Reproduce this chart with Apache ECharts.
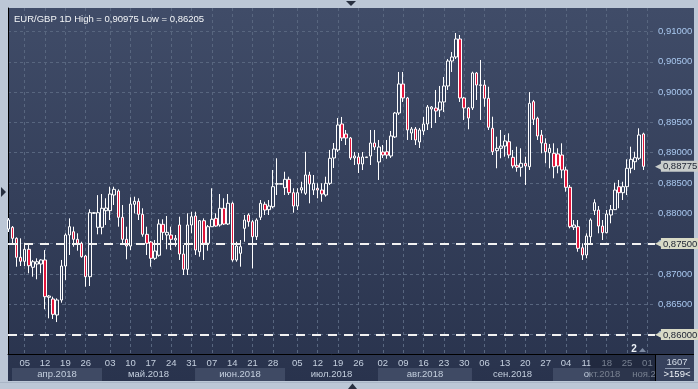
<!DOCTYPE html>
<html><head><meta charset="utf-8">
<script src="https://cdn.jsdelivr.net/npm/echarts@6/dist/echarts.min.js"></script>
<style>html,body{margin:0;padding:0;background:#bcc7d6;}#c{width:698px;height:389px;}</style>
</head><body><div id="c"></div>
<script>
// ---- data (EUR/GBP daily candles, 30 Mar - 31 Oct 2018) ----
const openVals = [0.87741,0.87769,0.87587,0.87274,0.87208,0.87406,0.87109,0.87163,0.87163,0.87230,
0.86614,0.86586,0.86322,0.86569,0.87130,0.87642,0.87696,0.87571,0.87505,0.87295,
0.86954,0.88000,0.87769,0.87769,0.88043,0.88043,0.88302,0.88368,0.87934,0.87571,
0.87460,0.88149,0.88198,0.87983,0.87653,0.87526,0.87257,0.87307,0.87818,0.87642,
0.87642,0.87559,0.87807,0.87328,0.87076,0.87807,0.87955,0.87366,0.87878,0.87505,
0.87779,0.87917,0.87807,0.88083,0.87823,0.88165,0.87230,0.87340,0.87752,0.87972,
0.87861,0.87614,0.87934,0.88149,0.88060,0.88109,0.88480,0.88480,0.88422,0.88561,
0.88340,0.88120,0.88384,0.88330,0.88632,0.88384,0.88413,0.88384,0.88302,0.88495,
0.88913,0.89045,0.89474,0.89309,0.89243,0.88913,0.88929,0.88814,0.88920,0.88946,
0.89160,0.88847,0.89012,0.89016,0.88946,0.89260,0.89655,0.90134,0.89903,0.89325,
0.89391,0.89177,0.89358,0.89474,0.89721,0.89737,0.89705,0.89837,0.90101,0.90513,
0.90579,0.90876,0.89903,0.89738,0.89738,0.90315,0.90110,0.90117,0.89898,0.89403,
0.89033,0.89073,0.89110,0.89181,0.88924,0.88792,0.88759,0.88825,0.88769,0.89842,
0.89568,0.89292,0.89155,0.89000,0.88990,0.88980,0.88962,0.88715,0.88429,0.87769,
0.87779,0.87432,0.87312,0.87614,0.88043,0.88054,0.87790,0.87680,0.87972,0.88060,
0.88439,0.88340,0.88439,0.88743,0.88851,0.88908,0.89309];
const closeVals = [0.87890,0.87587,0.87274,0.87208,0.87406,0.87135,0.87201,0.87201,0.87230,0.86624,
0.86635,0.86333,0.86569,0.87130,0.87642,0.87779,0.87571,0.87505,0.87284,0.86954,
0.88010,0.88010,0.88010,0.88083,0.88087,0.88318,0.88396,0.87934,0.87571,0.87460,
0.88153,0.88198,0.87983,0.87653,0.87505,0.87257,0.87378,0.87823,0.87686,0.87686,
0.87571,0.87587,0.87328,0.87076,0.87807,0.87944,0.87394,0.87878,0.87505,0.87779,
0.87901,0.87790,0.88083,0.87823,0.88165,0.87230,0.87460,0.87449,0.87889,0.87861,
0.87614,0.87889,0.88165,0.88054,0.88120,0.88439,0.88490,0.88490,0.88561,0.88340,
0.88120,0.88340,0.88422,0.88632,0.88483,0.88495,0.88384,0.88318,0.88495,0.88908,
0.89061,0.89457,0.89243,0.89243,0.88913,0.88946,0.88814,0.88929,0.88930,0.89160,
0.89094,0.89094,0.88962,0.88960,0.89276,0.89655,0.90134,0.89903,0.89375,0.89391,
0.89210,0.89375,0.89474,0.89754,0.89754,0.89688,0.89837,0.90101,0.90513,0.90579,
0.90876,0.89903,0.89738,0.89572,0.90315,0.90117,0.90120,0.89898,0.89419,0.89016,
0.89073,0.89110,0.89193,0.88962,0.88781,0.88759,0.88825,0.88781,0.89815,0.89551,
0.89276,0.89160,0.89016,0.89073,0.88769,0.88781,0.88715,0.88429,0.87779,0.87807,
0.87422,0.87312,0.87625,0.87889,0.88175,0.87790,0.87680,0.87988,0.88060,0.88384,
0.88340,0.88439,0.88743,0.88891,0.88917,0.89292,0.88775];
const lowVals = [0.87691,0.87505,0.87119,0.87130,0.87130,0.87010,0.86954,0.86911,0.87010,0.86416,
0.86267,0.86256,0.86205,0.86525,0.86900,0.87312,0.87449,0.87383,0.87267,0.86789,
0.86800,0.87990,0.87653,0.87653,0.87807,0.87889,0.88137,0.87779,0.87505,0.87241,
0.87394,0.88000,0.87889,0.87614,0.87312,0.87119,0.87230,0.87284,0.87559,0.87406,
0.87394,0.87449,0.87230,0.86982,0.86982,0.87670,0.87312,0.87284,0.87230,0.87383,
0.87779,0.87779,0.87779,0.87807,0.87807,0.87201,0.87201,0.87119,0.87531,0.87779,
0.87092,0.87559,0.87889,0.87972,0.87972,0.88083,0.88302,0.88480,0.88302,0.88302,
0.88010,0.88054,0.88330,0.88302,0.88165,0.88302,0.88248,0.88191,0.88274,0.88467,
0.88748,0.89012,0.89193,0.89127,0.88880,0.88797,0.88665,0.88714,0.88920,0.88797,
0.89045,0.88550,0.88913,0.88900,0.88913,0.89243,0.89622,0.89837,0.89210,0.89210,
0.89127,0.89078,0.89292,0.89375,0.89408,0.89490,0.89589,0.89672,0.90035,0.90332,
0.90546,0.89837,0.89540,0.89386,0.89705,0.89870,0.89540,0.89759,0.89375,0.88962,
0.88743,0.88908,0.88934,0.88908,0.88743,0.88686,0.88604,0.88467,0.88715,0.89457,
0.89210,0.88990,0.88825,0.88743,0.88578,0.88660,0.88578,0.88356,0.87752,0.87724,
0.87366,0.87230,0.87257,0.87477,0.87972,0.87670,0.87559,0.87670,0.87835,0.88054,
0.88083,0.88219,0.88302,0.88660,0.88715,0.88880,0.88715];
const highVals = [0.87922,0.87790,0.87604,0.87587,0.87477,0.87505,0.87230,0.87257,0.87241,0.87394,
0.86652,0.86624,0.86597,0.87230,0.87670,0.87917,0.87779,0.87670,0.87531,0.87312,
0.88066,0.88020,0.88300,0.88318,0.88248,0.88439,0.88439,0.88396,0.88137,0.87779,
0.88264,0.88274,0.88248,0.88083,0.87779,0.87543,0.87559,0.87901,0.87901,0.87955,
0.87779,0.87642,0.87944,0.87477,0.88000,0.88026,0.88026,0.87889,0.87917,0.87807,
0.88413,0.88000,0.88318,0.88248,0.88318,0.88191,0.87531,0.87559,0.87972,0.88000,
0.87889,0.87917,0.88219,0.88191,0.88219,0.88715,0.88908,0.88490,0.88686,0.88604,
0.88413,0.88413,0.88521,0.89016,0.88686,0.88632,0.88495,0.88495,0.88604,0.89045,
0.89160,0.89573,0.89590,0.89375,0.89260,0.89012,0.88995,0.89012,0.88930,0.89375,
0.89375,0.89210,0.89127,0.89210,0.89358,0.89672,0.90332,0.90332,0.89920,0.89424,
0.89424,0.89408,0.89590,0.89787,0.89770,0.90035,0.90101,0.90249,0.90546,0.90662,
0.90975,0.90942,0.89920,0.89754,0.90337,0.90332,0.90530,0.90200,0.90089,0.89594,
0.89264,0.89375,0.89292,0.89320,0.89045,0.89099,0.89073,0.88934,0.90000,0.89870,
0.89594,0.89375,0.89238,0.89144,0.89155,0.89073,0.89155,0.88769,0.88467,0.87889,
0.87889,0.87505,0.87670,0.87917,0.88231,0.88120,0.87889,0.88054,0.88137,0.88505,
0.88550,0.88521,0.88891,0.89099,0.89016,0.89403,0.89330];

// x-axis: candle index positions of the Thursday ticks and their labels
const dayTickIdx = [4,9,14,19,25,30,35,40,45,50,55,60,65,71,76,81,86,92,97,102,107,112,117,122,127,132,137,142,147,152,157];
const dayTickLabels = ['05','12','19','26','03','10','17','24','31','07','14','21','28','05','12','19','26','02','09','16','23','30','06','13','20','27','04','11','18','25','01'];
// month strip
const monthBounds = [0.88, 23.0, 45.85, 67.96, 90.8, 113.9, 133.8, 157.6, 158.87];
const monthLabelIdx = [11.94, 34.42, 56.9, 79.4, 102.36, 123.86, 145.85, 158.1];
const monthLabels = ['апр.2018','май.2018','июн.2018','июл.2018','авг.2018','сен.2018','окт.2018','ноя.2018'];
// y-axis
const priceTicks = [0.860,0.865,0.870,0.875,0.880,0.885,0.890,0.895,0.900,0.905,0.910];
const levelLines = [0.875, 0.860];
const lastPrice = 0.88775;
const titleText = 'EUR/GBP 1D High = 0,90975 Low = 0,86205';

// ---- chart ----
const FONT = 'Liberation Sans, Arial, sans-serif';
const X_MIN = -0.1, X_MAX = 158.87;
const fmtPrice = v => Number(v).toFixed(5).replace('.', ',');
const near = (arr, v) => arr.findIndex(t => Math.abs(t - v) < 1e-6);

const candles = openVals.map((o, i) => [i, o, closeVals[i], lowVals[i], highVals[i]]);

const bands = [];
for (let m = 0; m < monthBounds.length - 1; m += 2) {
  bands.push([{xAxis: monthBounds[m]}, {xAxis: monthBounds[m + 1]}]);
}

function tag(bg) {
  return {
    show: true, position: 'end', distance: 0, opacity: 1,
    formatter: p => '{a|◀}{b|' + fmtPrice(p.value) + '}',
    rich: {
      a: {color: bg, fontSize: 9, fontFamily: 'DejaVu Sans', padding: [0, -1, 0, 0]},
      b: {backgroundColor: bg, color: '#1c2232', fontSize: 9.5, fontFamily: FONT, padding: [1, 3, 0, 2]}
    }
  };
}

const chart = echarts.init(document.getElementById('c'), null, {renderer: 'canvas'});
chart.setOption({
  animation: false,
  backgroundColor: '#bcc7d6',
  title: {
    text: titleText, left: 9, top: 9,
    textStyle: {color: '#f4f6f8', fontSize: 9.5, fontWeight: 'normal', fontFamily: FONT}
  },
  graphic: [
    {type: 'rect', z: -100, shape: {x: 8, y: 8, width: 686, height: 373},
     style: {fill: new echarts.graphic.LinearGradient(0, 0, 0, 1, [
       {offset: 0, color: '#404c68'}, {offset: 1, color: '#29334d'}])}},
    {type: 'rect', z: -100, shape: {x: 0, y: 382, width: 698, height: 1}, style: {fill: '#a9b5c6'}},
    {type: 'line', z: 50, shape: {x1: 655, y1: 354.5, x2: 694, y2: 354.5}, style: {stroke: '#000', lineWidth: 1}},
    {type: 'line', z: 50, shape: {x1: 655.5, y1: 354, x2: 655.5, y2: 381}, style: {stroke: '#000', lineWidth: 1}},
    {type: 'rect', z: 100, shape: {x: 590, y: 355, width: 65, height: 26}, style: {fill: 'rgba(22,29,46,0.45)'}},
    {type: 'rect', z: 100, shape: {x: 656, y: 355, width: 38, height: 26}, style: {fill: '#37425d'}},
    {type: 'text', z: 101, style: {text: '1607', x: 677, y: 362.5, align: 'center', verticalAlign: 'middle',
      fill: '#d4dce8', font: '9.5px ' + FONT}},
    {type: 'line', z: 101, shape: {x1: 665, y1: 368.5, x2: 690, y2: 368.5}, style: {stroke: '#8e9ab0', lineWidth: 1}},
    {type: 'text', z: 101, style: {text: '>159<', x: 677, y: 374.5, align: 'center', verticalAlign: 'middle',
      fill: '#eef2f7', font: '9.5px ' + FONT}},
    {type: 'text', z: 101, style: {text: '2', x: 634, y: 349, align: 'center', verticalAlign: 'middle',
      fill: '#eef2f7', font: 'bold 10px ' + FONT}},
    {type: 'polygon', z: 101, shape: {points: [[639, 352], [646, 352], [642.5, 348]]}, style: {fill: '#7d8aa2'}},
    {type: 'polygon', z: 101, shape: {points: [[346, 1], [356, 1], [351, 6]]}, style: {fill: '#283040'}},
    {type: 'polygon', z: 101, shape: {points: [[1, 187], [1, 197], [6, 192]]}, style: {fill: '#283040'}},
    {type: 'polygon', z: 101, shape: {points: [[348, 389], [357, 389], [352.5, 383.5]]}, style: {fill: '#283040'}}
  ],
  grid: [
    {left: 8, right: 43, top: 8, bottom: 35},
    {left: 8, right: 43, top: 368, height: 13}
  ],
  xAxis: [
    {type: 'value', gridIndex: 0, min: X_MIN, max: X_MAX,
     axisLine: {show: true, onZero: false, lineStyle: {color: '#000', width: 1}},
     axisTick: {show: false, customValues: dayTickIdx},
     axisLabel: {customValues: dayTickIdx, formatter: v => dayTickLabels[near(dayTickIdx, v)] || '',
       color: '#c4cfde', fontSize: 9.5, fontFamily: FONT, margin: 9, verticalAlign: 'middle'},
     splitLine: {show: true, lineStyle: {color: '#58667f', width: 1, type: [3, 3]}}},
    {type: 'value', gridIndex: 1, min: X_MIN, max: X_MAX, z: 10,
     axisLine: {show: false}, axisTick: {show: false, customValues: monthLabelIdx},
     axisLabel: {customValues: monthLabelIdx, formatter: v => monthLabels[near(monthLabelIdx, v)] || '',
       color: '#c4cfde', fontSize: 9.5, fontFamily: FONT, margin: -7, verticalAlign: 'middle'},
     splitLine: {show: false}}
  ],
  yAxis: [
    {type: 'value', gridIndex: 0, position: 'right', min: 0.856782, max: 0.913878,
     axisLine: {show: true, lineStyle: {color: '#000', width: 1}},
     axisTick: {show: false, customValues: priceTicks},
     axisLabel: {customValues: priceTicks, formatter: v => fmtPrice(v), color: '#a9c8ef',
       fontSize: 9.5, fontFamily: FONT, margin: 3},
     splitLine: {show: true, lineStyle: {color: '#58667f', width: 1, type: [3, 3]}}},
    {type: 'value', gridIndex: 1, min: 0, max: 1, show: false}
  ],
  series: [
    {type: 'candlestick', xAxisIndex: 0, yAxisIndex: 0, data: candles, barWidth: 3,
     itemStyle: {color: '#36425e', color0: '#e3163c', borderColor: '#ffffff', borderColor0: '#ffffff', borderWidth: 1},
     markLine: {silent: true, symbol: 'none', animation: false, precision: 5,
       data: [
         {yAxis: levelLines[0], lineStyle: {color: '#f2f2f2', width: 2, type: [9, 7]}, label: tag('#d8dac6')},
         {yAxis: levelLines[1], lineStyle: {color: '#f2f2f2', width: 2, type: [9, 7]}, label: tag('#d8dac6')},
         {yAxis: lastPrice, lineStyle: {color: 'rgba(0,0,0,0)', width: 1, type: 'solid'}, label: tag('#c9cdcb')}
       ]}},
    {type: 'line', xAxisIndex: 1, yAxisIndex: 1, data: [], silent: true, z: 1,
     markArea: {silent: true, itemStyle: {color: '#3f4a64'}, data: bands}}
  ]
});
</script>
</body></html>
